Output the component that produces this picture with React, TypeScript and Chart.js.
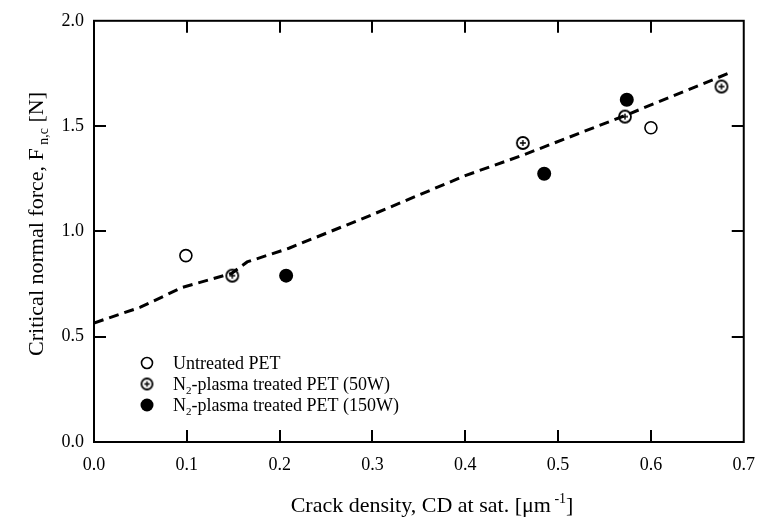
import React, { useEffect, useRef } from "react";
import { Chart, registerables } from "chart.js";

Chart.register(...registerables);

// ---- data ----
const untreatedX = [0.099, 0.6];
const untreatedY = [0.885, 1.492];

const plasma50X = [0.149, 0.462, 0.572, 0.676];
const plasma50Y = [0.79, 1.42, 1.545, 1.688];

const plasma150X = [0.207, 0.485, 0.574];
const plasma150Y = [0.79, 1.274, 1.625];

const fitX = [0, 0.05, 0.095, 0.148, 0.165, 0.21, 0.3, 0.4, 0.462, 0.572, 0.686];
const fitY = [0.565, 0.64, 0.734, 0.8, 0.855, 0.92, 1.08, 1.265, 1.362, 1.55, 1.755];

const xTickValues = [0, 0.1, 0.2, 0.3, 0.4, 0.5, 0.6, 0.7];
const yTickValues = [0, 0.5, 1.0, 1.5, 2.0];

const legendLabels = [
  [{ t: "Untreated PET" }],
  [{ t: "N" }, { t: "2", sub: true }, { t: "-plasma treated PET (50W)" }],
  [{ t: "N" }, { t: "2", sub: true }, { t: "-plasma treated PET (150W)" }],
];

const yTitle = [
  { t: "Critical normal force, F" },
  { t: " n,c", sub: true },
  { t: " [N]" },
];
const xTitle = [
  { t: "Crack density, CD at sat. [\u03bcm" },
  { t: " -1", sup: true },
  { t: "]" },
];

const FONT = '"Liberation Serif", "Times New Roman", Times, serif';

type Seg = { t: string; sub?: boolean; sup?: boolean };

function segFont(size: number, s: Seg) {
  return `${s.sub || s.sup ? Math.round(size * 0.62) : size}px ${FONT}`;
}

function measureSegs(ctx: CanvasRenderingContext2D, segs: Seg[], size: number) {
  let w = 0;
  for (const s of segs) {
    ctx.font = segFont(size, s);
    w += ctx.measureText(s.t).width;
  }
  return w;
}

function drawSegs(ctx: CanvasRenderingContext2D, segs: Seg[], x: number, y: number, size: number) {
  let cx = x;
  ctx.textAlign = "left";
  ctx.textBaseline = "alphabetic";
  for (const s of segs) {
    ctx.font = segFont(size, s);
    const dy = s.sub ? size * 0.22 : s.sup ? -size * 0.42 : 0;
    ctx.fillText(s.t, cx, y + dy);
    cx += ctx.measureText(s.t).width;
  }
}

function makePlusCircle(r: number) {
  const c = document.createElement("canvas");
  const s = Math.ceil(2 * r + 4);
  c.width = s;
  c.height = s;
  const g = c.getContext("2d")!;
  const m = s / 2;
  g.strokeStyle = "#000";
  g.lineWidth = 1.8;
  g.beginPath();
  g.arc(m, m, r, 0, Math.PI * 2);
  g.stroke();
  g.lineWidth = 1.4;
  const p = r * 0.5;
  g.beginPath();
  g.moveTo(m - p, m);
  g.lineTo(m + p, m);
  g.moveTo(m, m - p);
  g.lineTo(m, m + p);
  g.stroke();
  return c;
}

const framePlugin = {
  id: "frameAndText",
  afterDraw(chart: any) {
    const { ctx, chartArea } = chart;
    const xs = chart.scales.x;
    const ys = chart.scales.y;
    const { left, right, top, bottom } = chartArea;
    ctx.save();
    ctx.strokeStyle = "#000";
    ctx.lineWidth = 2;
    ctx.strokeRect(left, top, right - left, bottom - top);
    const tl = 12;
    ctx.beginPath();
    for (const v of xTickValues) {
      if (v <= xs.min || v >= xs.max) continue;
      const px = Math.round(xs.getPixelForValue(v));
      ctx.moveTo(px, bottom);
      ctx.lineTo(px, bottom - tl);
      ctx.moveTo(px, top);
      ctx.lineTo(px, top + tl);
    }
    for (const v of yTickValues) {
      if (v <= ys.min || v >= ys.max) continue;
      const py = Math.round(ys.getPixelForValue(v));
      ctx.moveTo(left, py);
      ctx.lineTo(left + tl, py);
      ctx.moveTo(right, py);
      ctx.lineTo(right - tl, py);
    }
    ctx.stroke();

    // legend
    const lx = 147;
    const rows = [363, 384, 405];
    ctx.lineWidth = 1.6;
    ctx.beginPath();
    ctx.arc(lx, rows[0], 5.5, 0, Math.PI * 2);
    ctx.fillStyle = "#fff";
    ctx.fill();
    ctx.stroke();
    const pc = makePlusCircle(5.5);
    ctx.drawImage(pc, lx - pc.width / 2, rows[1] - pc.height / 2);
    ctx.fillStyle = "#000";
    ctx.beginPath();
    ctx.arc(lx, rows[2], 6.5, 0, Math.PI * 2);
    ctx.fill();
    legendLabels.forEach((segs, i) => {
      drawSegs(ctx, segs as Seg[], 173, rows[i] + 6, 18);
    });

    // x title
    const ts = 22;
    const xw = measureSegs(ctx, xTitle as Seg[], ts);
    drawSegs(ctx, xTitle as Seg[], 432 - xw / 2, 512, ts);

    // y title
    const yw = measureSegs(ctx, yTitle as Seg[], ts);
    ctx.translate(43, 224);
    ctx.rotate(-Math.PI / 2);
    drawSegs(ctx, yTitle as Seg[], -yw / 2, 0, ts);
    ctx.restore();
  },
};

export default function App() {
  const ref = useRef<HTMLCanvasElement | null>(null);
  useEffect(() => {
    document.body.style.margin = "0";
    const canvas = ref.current!;
    const toPts = (xa: number[], ya: number[]) => xa.map((x, i) => ({ x, y: ya[i] }));
    const plusImg = makePlusCircle(6);
    const chart = new Chart(canvas, {
      type: "scatter",
      data: {
        datasets: [
          {
            label: "Untreated PET",
            data: toPts(untreatedX, untreatedY),
            pointStyle: "circle",
            pointRadius: 6,
            backgroundColor: "#fff",
            borderColor: "#000",
            borderWidth: 1.6,
            order: 1,
          },
          {
            label: "N2-plasma treated PET (50W)",
            data: toPts(plasma50X, plasma50Y),
            pointStyle: plusImg as any,
            pointRadius: 6,
            backgroundColor: "rgba(0,0,0,0)",
            borderColor: "#000",
            order: 1,
          },
          {
            label: "N2-plasma treated PET (150W)",
            data: toPts(plasma150X, plasma150Y),
            pointStyle: "circle",
            pointRadius: 7,
            backgroundColor: "#000",
            borderColor: "#000",
            borderWidth: 0,
            order: 1,
          },
          {
            label: "fit",
            data: toPts(fitX, fitY),
            showLine: true,
            pointRadius: 0,
            borderColor: "#000",
            borderWidth: 3,
            borderDash: [10, 6],
            fill: false,
            order: 5,
          } as any,
        ],
      },
      options: {
        responsive: false,
        animation: false,
        layout: { padding: { left: 0, right: 15, top: 14, bottom: 0 } },
        plugins: { legend: { display: false }, tooltip: { enabled: false } },
        scales: {
          x: {
            type: "linear",
            min: 0,
            max: 0.7,
            afterFit: (s: any) => {
              s.height = 78;
            },
            afterBuildTicks: (s: any) => {
              s.ticks = xTickValues.map((v) => ({ value: v }));
            },
            grid: { display: false, drawTicks: false },
            border: { display: false },
            ticks: {
              padding: 12,
              color: "#000",
              font: { family: FONT, size: 18 },
              callback: (v: any) => Number(v).toFixed(1),
            },
          },
          y: {
            type: "linear",
            min: 0,
            max: 2,
            afterFit: (s: any) => {
              s.width = 94;
            },
            afterBuildTicks: (s: any) => {
              s.ticks = yTickValues.map((v) => ({ value: v }));
            },
            grid: { display: false, drawTicks: false },
            border: { display: false },
            ticks: {
              padding: 10,
              color: "#000",
              font: { family: FONT, size: 18 },
              callback: (v: any) => Number(v).toFixed(1),
            },
          },
        },
      },
      plugins: [framePlugin],
    });
    return () => chart.destroy();
  }, []);
  return <canvas ref={ref} width={767} height={520} style={{ display: "block" }} />;
}
